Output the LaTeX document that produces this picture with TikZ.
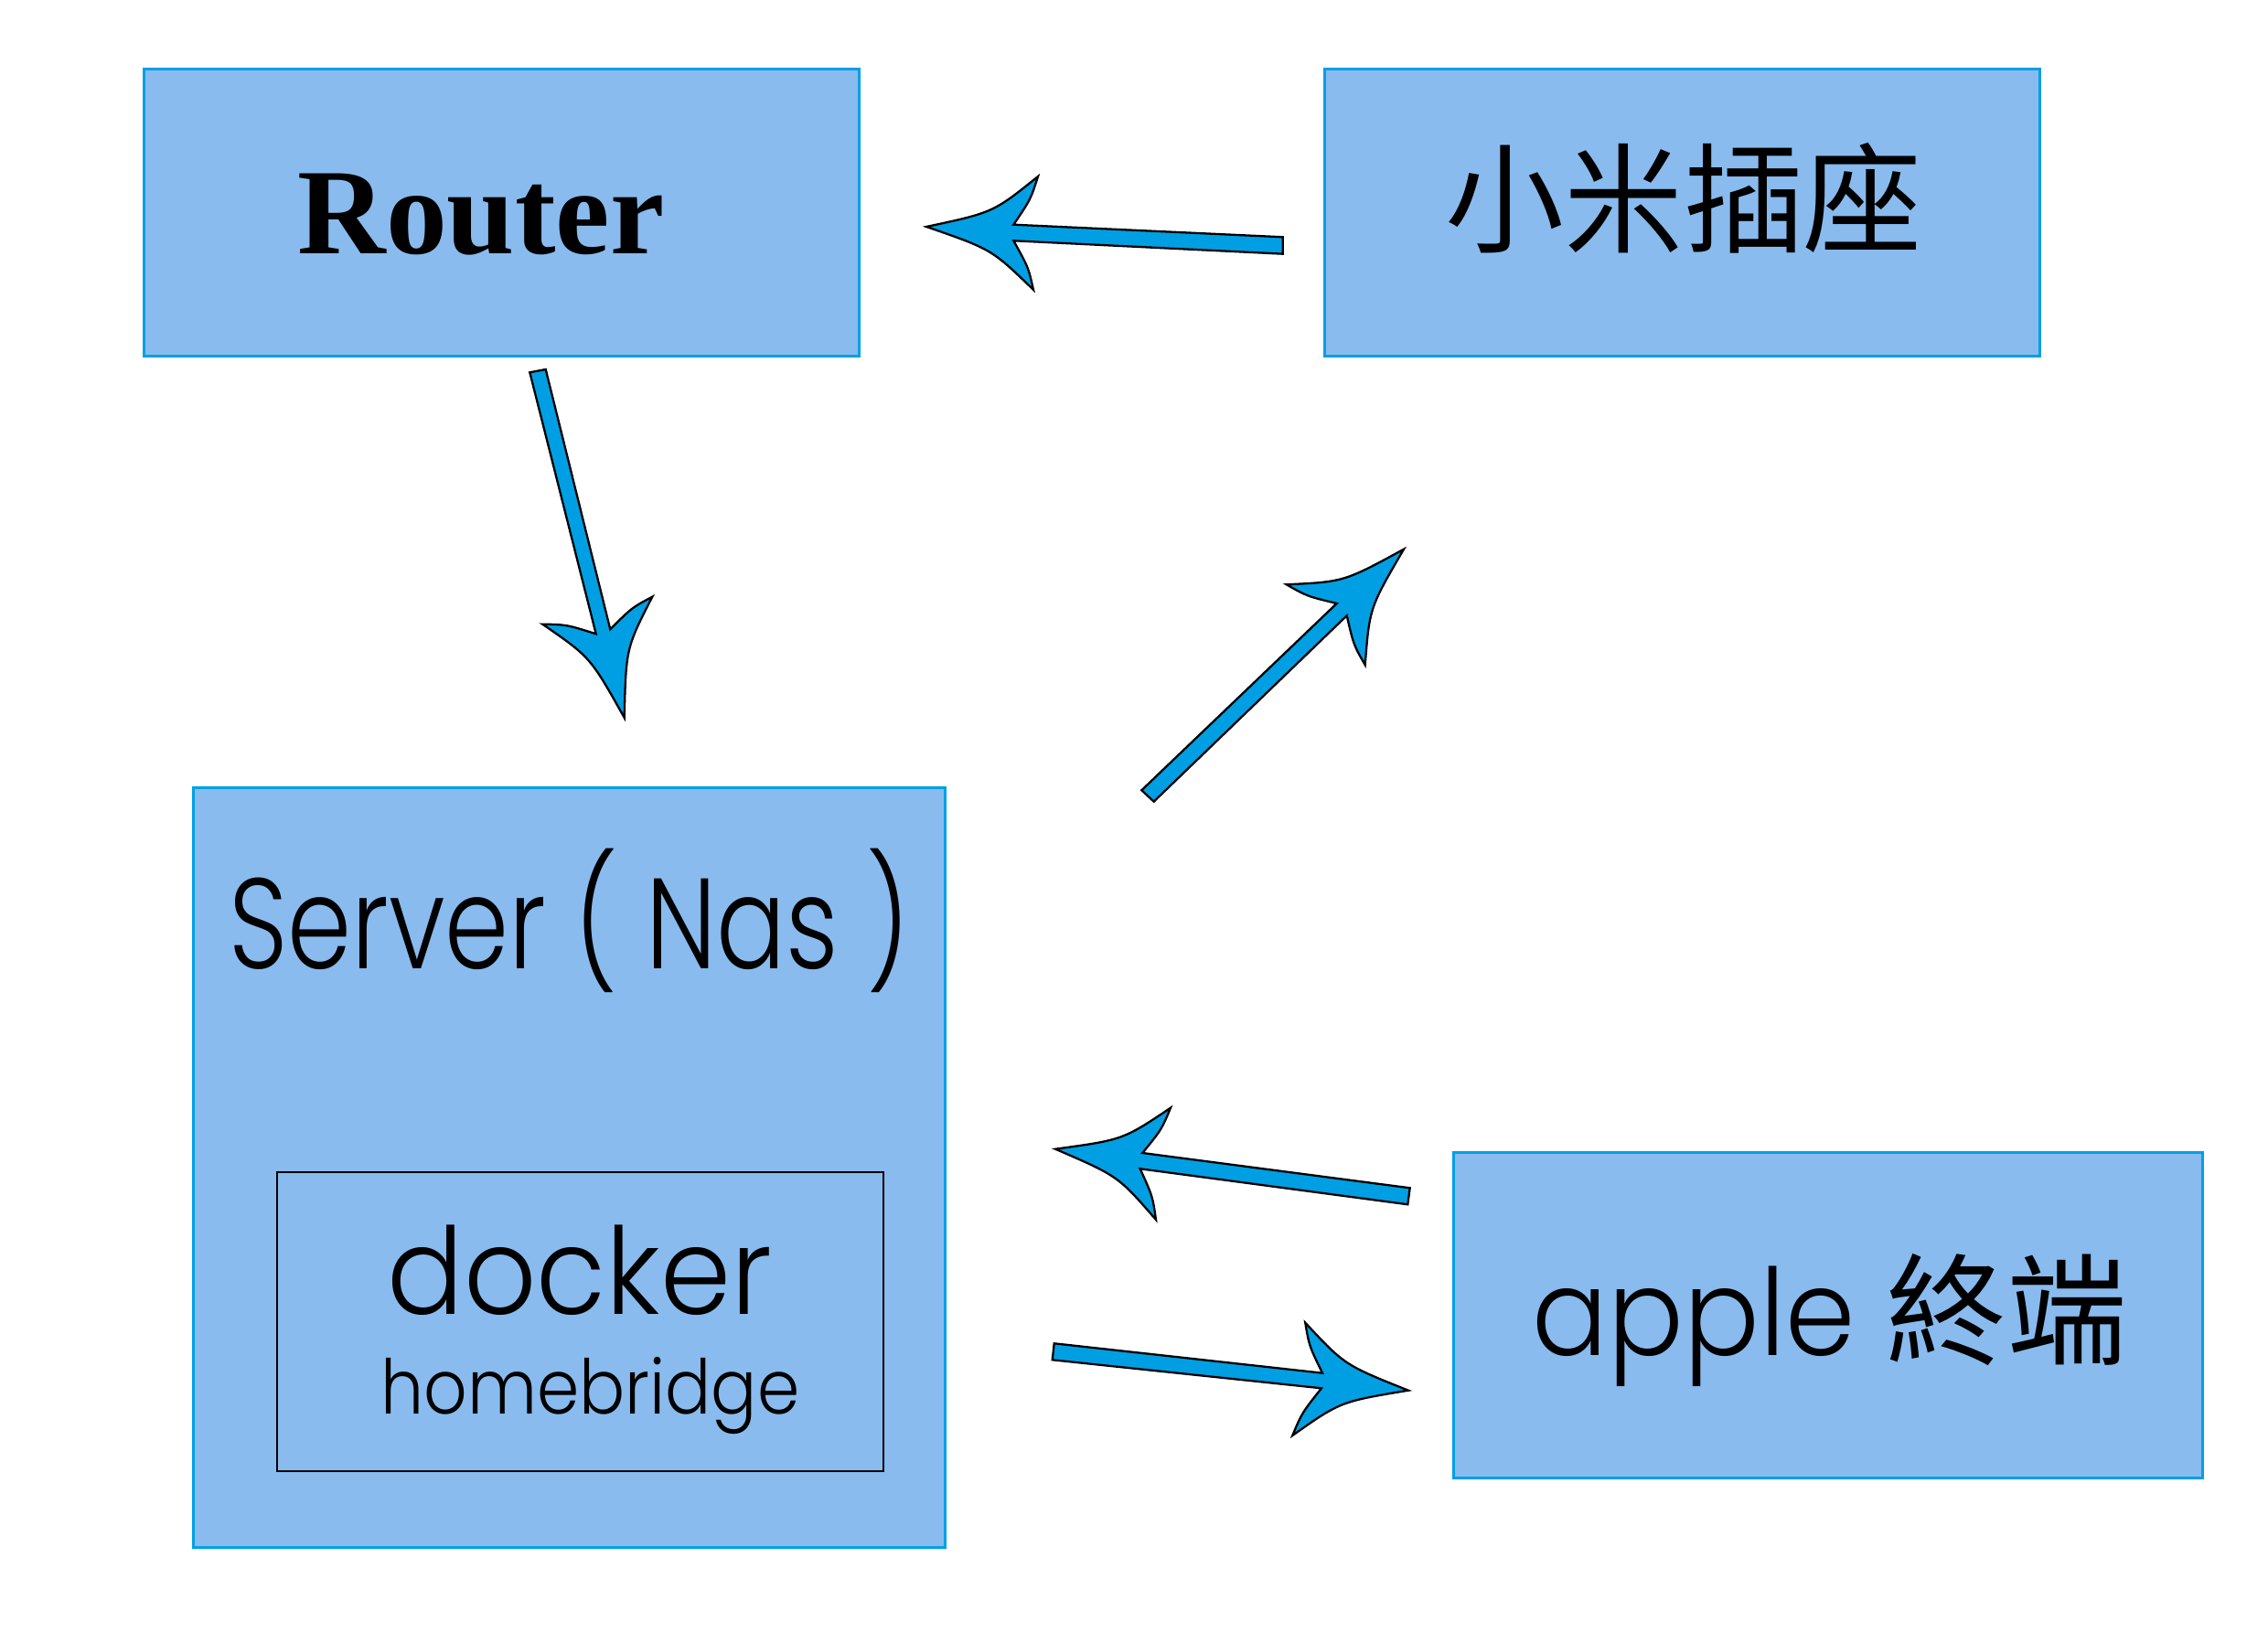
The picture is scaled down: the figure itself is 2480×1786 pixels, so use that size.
\documentclass[tikz,border=0pt]{standalone}
\usepackage{fontspec}
\newfontfamily\gsA[FakeStretch=0.80]{Poppins Light}
\newfontfamily\gsB[FakeStretch=0.94]{Poppins Light}
\newfontfamily\gsC[FakeStretch=0.90]{Poppins Light}
\newfontfamily\gsD[FakeStretch=0.93]{Poppins Light}
\newfontfamily\cjk{Noto Sans CJK TC}
\newfontfamily\routerfont{Liberation Serif}
\usetikzlibrary{calc}
\definecolor{boxfill}{HTML}{89BBEE}
\definecolor{boxline}{HTML}{00A0E6}
\definecolor{arrowfill}{HTML}{009FE3}
\tikzset{
  box/.style={draw=boxline, fill=boxfill, line width=0.85pt, rectangle, inner sep=0pt},
  innerbox/.style={draw=black, line width=0.7pt, rectangle, inner sep=0pt},
  txt/.style={inner sep=0pt, outer sep=0pt, text=black},
  arrowshape/.style={fill=arrowfill, draw=black, line width=0.65pt, line join=miter},
}
% tailL, notchL, barbL, tip, barbR, notchR, tailR
\newcommand\blockarrow[7]{%
  \coordinate (nm) at ($(#2)!0.5!(#6)$);
  \filldraw[arrowshape] (#1) -- (#2)
    .. controls ($(#2)!0.5!(#3)!-0.05!(#4)$) .. (#3)
    .. controls ($(#3)!0.5!(#4)!0.35!(nm)$) .. (#4)
    .. controls ($(#4)!0.5!(#5)!0.35!(nm)$) .. (#5)
    .. controls ($(#5)!0.5!(#6)!-0.05!(#4)$) .. (#6)
    -- (#7) -- cycle;}
\begin{document}
\begin{tikzpicture}[x=0.01cm, y=-0.01cm]
\useasboundingbox (0,0) rectangle (2480,1786);
\fill[white] (0,0) rectangle (2480,1786);

% boxes
\node[box, minimum width=7.815cm, minimum height=3.13cm] (router) at (548.75,232.5) {};
\node[box, minimum width=7.813cm, minimum height=3.13cm] (xiaomi) at (1839.35,232.5) {};
\node[box, minimum width=8.21cm, minimum height=8.30cm] (server) at (622.5,1277) {};
\node[innerbox, minimum width=6.63cm, minimum height=3.27cm] (docker) at (634.5,1445.5) {};
\node[box, minimum width=8.19cm, minimum height=3.56cm] (apple) at (1999,1438.5) {};

% texts
\node[txt, anchor=base] (routertxt) at (526,277.3)
  {\routerfont\bfseries\fontsize{38pt}{40pt}\selectfont Router};
\node[txt, anchor=center] (xiaomitxt) at (1841,216.5)
  {\cjk\fontsize{37pt}{40pt}\selectfont 小米插座};
\node[txt, anchor=base] (servertxt) at (622.5,1059.3)
  {\gsA\fontsize{40pt}{42pt}\selectfont Server ( Nas )};
\node[txt, anchor=base] (dockertxt) at (634,1438)
  {\gsB\fontsize{37.5pt}{40pt}\selectfont docker};
\node[txt, anchor=base] (hbtxt) at (645.5,1546.7)
  {\gsC\fontsize{23.5pt}{26pt}\selectfont homebridge};
\node[txt, anchor=base] (appletxt) at (2001,1482.7)
  {\gsD\fontsize{37.5pt}{40pt}\selectfont apple {\cjk 終端}};

% block arrows
% xiaomi -> router
\blockarrow{1402.7,259.3}{1108.3,245.7}{1135,193}{1013,248}{1130,317}{1108.3,263.3}{1402.7,277.7}
% router -> server
\blockarrow{579.3,407.3}{651.7,693.3}{593.3,682.7}{682.7,785}{713.3,652.7}{667.3,688.3}{596.7,404}
% server -> xiaomi
\blockarrow{1248.3,864.3}{1461.7,660}{1406.7,639.3}{1535,600.7}{1492.7,727.3}{1472.7,673.3}{1261.7,876.7}
% apple -> server
\blockarrow{1541.7,1299.3}{1249.3,1261}{1280,1211.7}{1154,1256.7}{1264,1334}{1246.7,1278.3}{1539.3,1317.3}
% server -> apple
\blockarrow{1152.7,1469.3}{1446,1501.7}{1427.3,1446.7}{1540,1520.7}{1413.3,1570}{1445,1518.3}{1150.7,1487.3}
\end{tikzpicture}
\end{document}
